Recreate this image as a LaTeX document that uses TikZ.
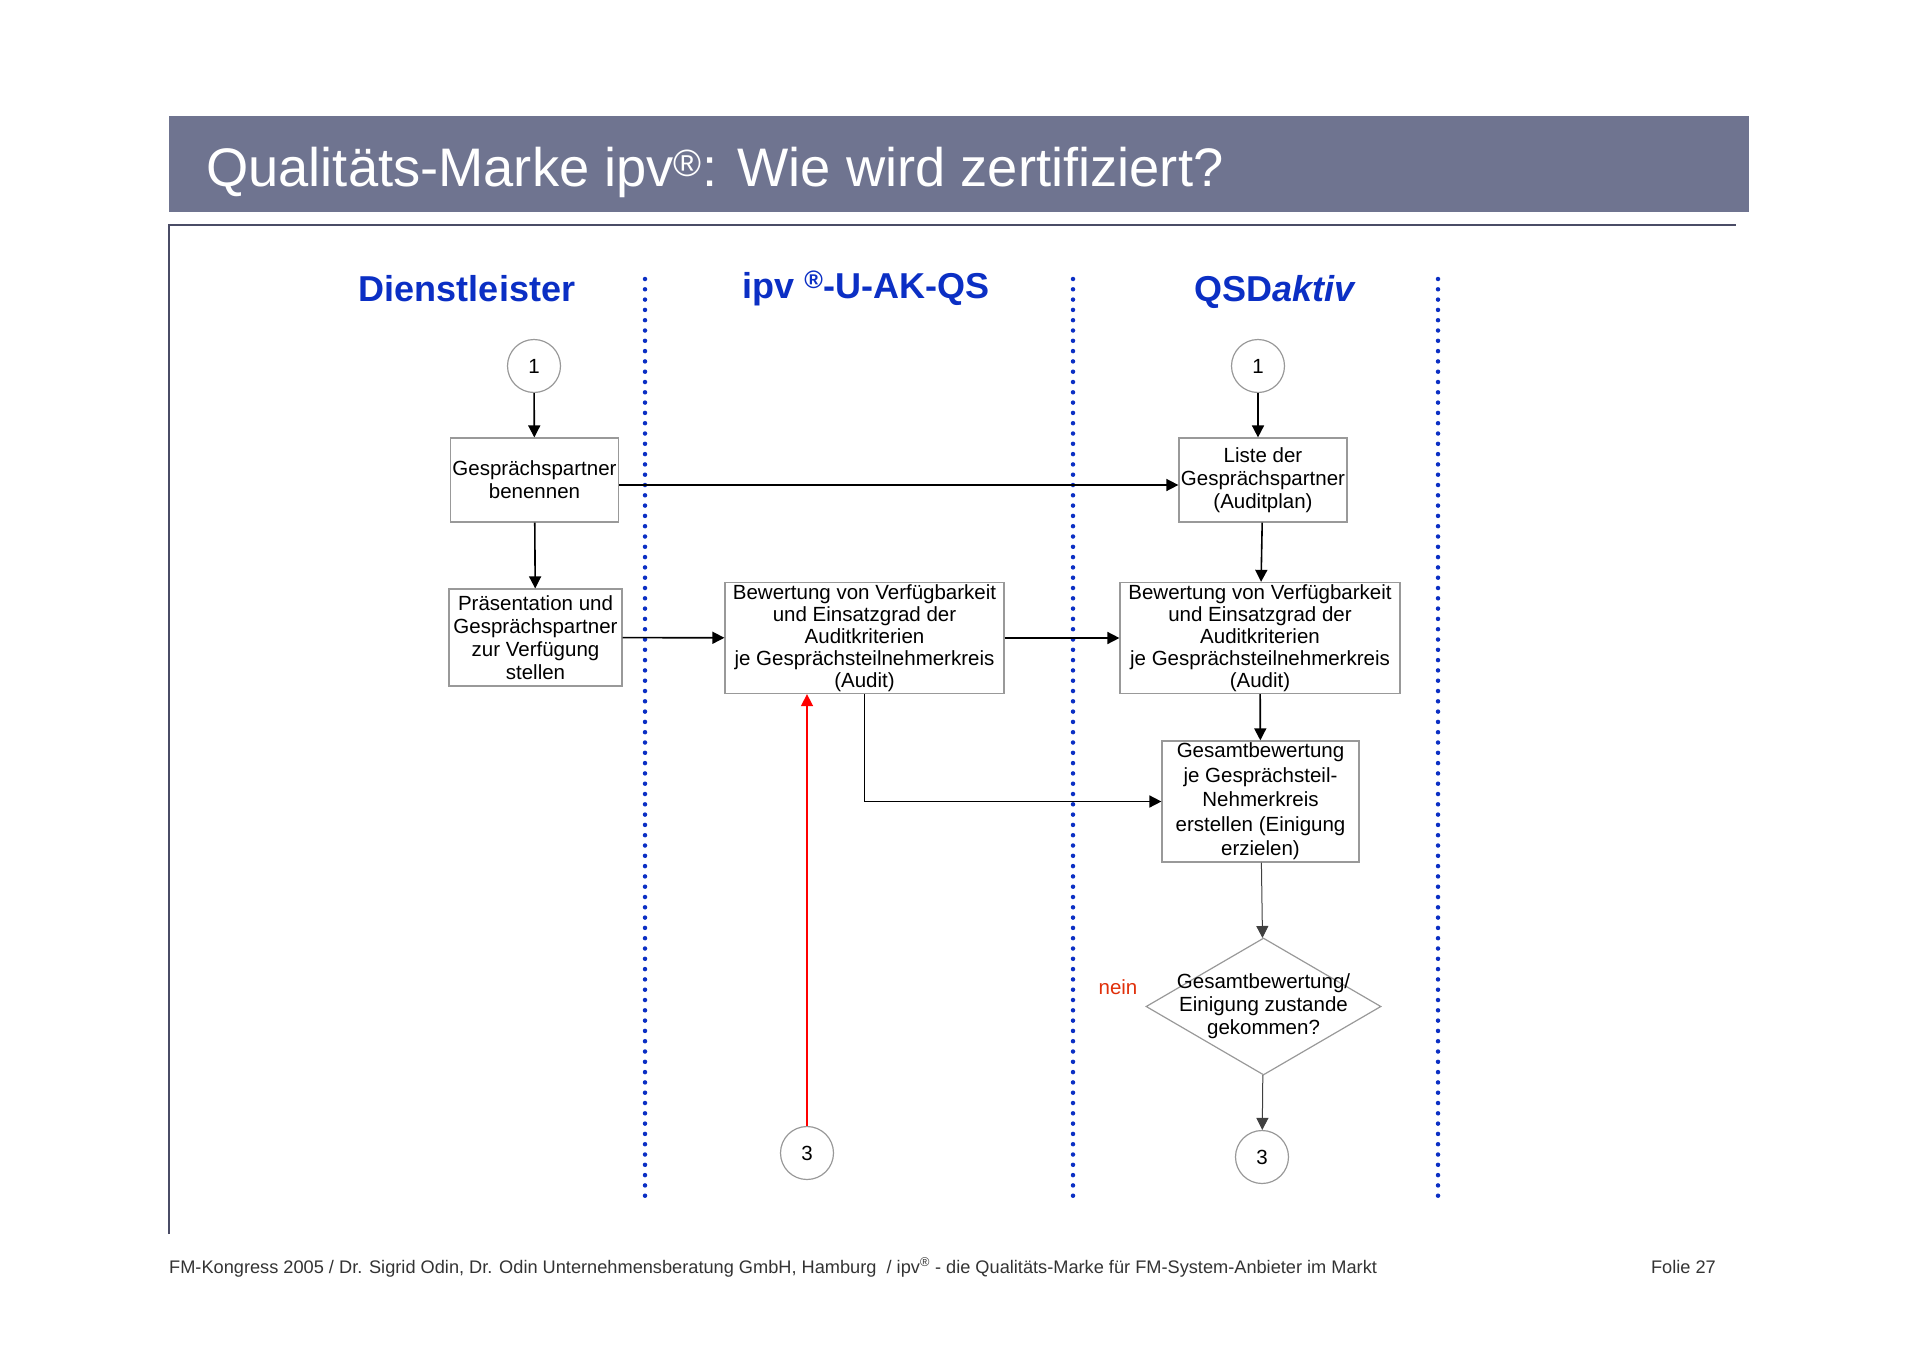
\documentclass[tikz,border=0pt]{standalone}
\usepackage{fontspec}
\setmainfont{Liberation Sans}
\usetikzlibrary{arrows.meta,shapes.geometric}
\definecolor{bandgray}{HTML}{6F7490}
\definecolor{laneblue}{HTML}{0B2FC4}
\definecolor{framegray}{HTML}{4A4C66}
\definecolor{neinred}{HTML}{E0300A}
\definecolor{footgray}{HTML}{333333}

\begin{document}
\begin{tikzpicture}[x=1pt, y=-1pt,
	every node/.style={font=\fontsize{20.5}{23}\selectfont},
	box/.style={draw=gray!80, line width=1.2pt, align=center, inner sep=2pt},
	con/.style={draw=gray!80, circle, line width=1.2pt, minimum size=53pt, inner sep=0pt},
	dec/.style={draw=gray!80, diamond, line width=1.2pt, align=center, aspect=1.7, inner xsep=-26pt, inner ysep=0pt, minimum width=235pt, minimum height=137pt},
	lane/.style={laneblue, line width=4.5pt, line cap=round, dash pattern=on 0pt off 10.3pt},
	head/.style={text=laneblue, font=\fontsize{36}{40}\selectfont\bfseries, anchor=base},
	arr/.style={-{Triangle[length=12pt,width=12pt]}, line width=1.6pt},
	fine/.style={arr, line width=1pt, draw=gray!50!black},
	foot/.style={text=footgray, inner sep=0pt, font=\fontsize{18.2}{21}\selectfont}]
	\useasboundingbox (0,0) rectangle (1920,1357);
	% title band and frame
	\fill[bandgray] (169,116) rectangle (1749,212);
	\node[text=white, anchor=base west, inner sep=0pt, font=\fontsize{54.3}{60}\selectfont] (title) at (206,186) {Qualitäts-Marke ipv\textsuperscript{®}: Wie wird zertifiziert?};
	\draw[framegray, line width=2pt] (169,1234) -- (169,225) -- (1736,225);
	% swim lanes
	\foreach \x in {645,1073,1438} {\draw[lane] (\x,279) -- (\x,1196);}
	\node[head] (hdienst) at (467,301) {Dienstleister};
	\node[head] (hipv) at (866,298) {ipv \textsuperscript{®}-U-AK-QS};
	\node[head] (hqsd) at (1275,301) {QSD\textit{aktiv}};
	% Dienstleister
	\node[con] (c1L) at (534,366) {1};
	\node[box, minimum width=167pt, minimum height=84pt] (benennen) at (534.5,480) {Gesprächspartner\\benennen};
	\node[box, minimum width=173pt, minimum height=97pt] (praes) at (535.5,637.5) {Präsentation und\\Gesprächspartner\\zur Verfügung\\stellen};
	% ipv-U-AK-QS
	\node[box, minimum width=279pt, minimum height=110pt, font=\fontsize{20.5}{22}\selectfont] (bewM) at (864.5,638) {Bewertung von Verfügbarkeit\\und Einsatzgrad der\\Auditkriterien\\je Gesprächsteilnehmerkreis\\(Audit)};
	\node[con] (c3M) at (807,1153) {3};
	% QSDaktiv
	\node[con] (c1R) at (1258,366) {1};
	\node[box, minimum width=168pt, minimum height=84pt] (liste) at (1263,480) {Liste der\\Gesprächspartner\\(Auditplan)};
	\node[box, minimum width=280pt, minimum height=110pt, font=\fontsize{20.5}{22}\selectfont] (bewR) at (1260,638) {Bewertung von Verfügbarkeit\\und Einsatzgrad der\\Auditkriterien\\je Gesprächsteilnehmerkreis\\(Audit)};
	\node[box, minimum width=197pt, minimum height=119pt, font=\fontsize{20.5}{24.5}\selectfont] (gesamt) at (1260.5,801.5) {Gesamtbewertung\\je Gesprächsteil-\\Nehmerkreis\\erstellen (Einigung\\erzielen)};
	\node[dec] (dec) at (1263.5,1006.5) {Gesamtbewertung/\\Einigung zustande\\gekommen?};
	\node[text=neinred] (nein) at (1118,987) {nein};
	\node[con] (c3R) at (1262,1157) {3};
	% connectors
	\draw[arr] (c1L) -- (benennen);
	\draw[arr] (benennen) -- (praes);
	\draw[arr] ([yshift=-5pt]benennen.east) -- ([yshift=-5pt]liste.west);
	\draw[arr] (praes) -- (bewM);
	\draw[arr] (bewM) -- (bewR);
	\draw[arr] (c1R) -- (c1R |- liste.north);
	\draw[arr] (liste) -- (bewR);
	\draw[arr] (bewR) -- (gesamt);
	\draw[arr] (bewM.south) |- (gesamt.west);
	\draw[fine] (gesamt) -- (dec);
	\draw[fine] (dec) -- (c3R);
	\draw[arr, red] (c3M.north) -- (c3M.north |- bewM.south);
	% footer
	\node[foot, anchor=base west] (fline) at (169,1273) {FM-Kongress 2005 / Dr. Sigrid Odin, Dr. Odin Unternehmensberatung GmbH, Hamburg \ / ipv\textsuperscript{®} - die Qualitäts-Marke für FM-System-Anbieter im Markt};
	\node[foot, anchor=base east] (folie) at (1716,1273) {Folie 27};
\end{tikzpicture}
\end{document}
